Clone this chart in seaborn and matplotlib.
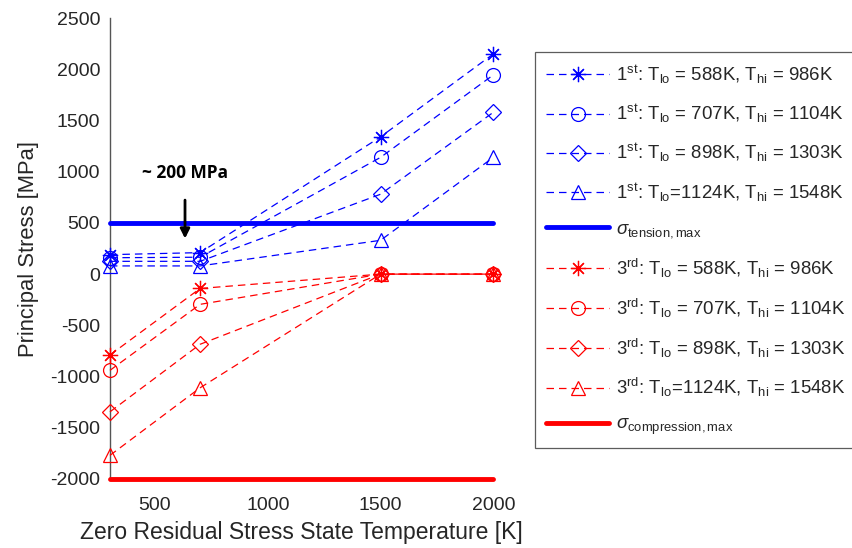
import matplotlib
matplotlib.use("Agg")
import matplotlib.pyplot as plt
import numpy as np
import pandas as pd
import seaborn as sns

# ---- data ----
temps = [300, 700, 1500, 2000]
first_588 = [190, 210, 1340, 2150]
first_707 = [160, 165, 1140, 1945]
first_898 = [125, 125, 780, 1580]
first_1124 = [80, 80, 330, 1140]
third_588 = [-790, -140, 0, 0]
third_707 = [-940, -295, 0, 0]
third_898 = [-1345, -685, 0, 0]
third_1124 = [-1770, -1110, 0, 0]
tension_max = 500
compression_max = -2000
limit_x = [300, 2000]

first_labels = [
    r"$1^{\mathrm{st}}$: T$_{\mathrm{lo}}$ = 588K, T$_{\mathrm{hi}}$ = 986K",
    r"$1^{\mathrm{st}}$: T$_{\mathrm{lo}}$ = 707K, T$_{\mathrm{hi}}$ = 1104K",
    r"$1^{\mathrm{st}}$: T$_{\mathrm{lo}}$ = 898K, T$_{\mathrm{hi}}$ = 1303K",
    r"$1^{\mathrm{st}}$: T$_{\mathrm{lo}}$=1124K, T$_{\mathrm{hi}}$ = 1548K",
]
third_labels = [
    r"$3^{\mathrm{rd}}$: T$_{\mathrm{lo}}$ = 588K, T$_{\mathrm{hi}}$ = 986K",
    r"$3^{\mathrm{rd}}$: T$_{\mathrm{lo}}$ = 707K, T$_{\mathrm{hi}}$ = 1104K",
    r"$3^{\mathrm{rd}}$: T$_{\mathrm{lo}}$ = 898K, T$_{\mathrm{hi}}$ = 1303K",
    r"$3^{\mathrm{rd}}$: T$_{\mathrm{lo}}$=1124K, T$_{\mathrm{hi}}$ = 1548K",
]
tension_label = r"$\sigma_{\mathrm{tension,max}}$"
compression_label = r"$\sigma_{\mathrm{compression,max}}$"
x_ticks = [500, 1000, 1500, 2000]
y_ticks = list(range(-2000, 2501, 500))

sns.set_style("white")
plt.rcParams["font.family"] = ["Liberation Sans", "DejaVu Sans"]
plt.rcParams["mathtext.fontset"] = "custom"
plt.rcParams["mathtext.rm"] = "Liberation Sans"
plt.rcParams["mathtext.it"] = "Liberation Sans:italic"
plt.rcParams["mathtext.bf"] = "Liberation Sans:bold"
plt.rcParams["axes.unicode_minus"] = False

fig = plt.figure(figsize=(8.52, 5.48), dpi=100)
ax = fig.add_axes([0.129, 0.126, 0.45, 0.841])

asterisk = (8, 2, 0)
markers = [asterisk, "o", "D", "^"]
msizes = [11, 10, 8, 10]
BLUE = "#0000ff"
RED = "#ff0000"

first_series = [first_588, first_707, first_898, first_1124]
third_series = [third_588, third_707, third_898, third_1124]

for vals, lab, m, ms in zip(first_series, first_labels, markers, msizes):
    sns.lineplot(x=temps, y=vals, ax=ax, color=BLUE, linestyle=(0, (6, 4)), lw=0.9,
                 marker=m, markersize=ms, markerfacecolor="none",
                 markeredgecolor=BLUE, markeredgewidth=0.9, label=lab, sort=False)
sns.lineplot(x=limit_x, y=[tension_max, tension_max], ax=ax, color=BLUE, lw=3.5,
             label=tension_label, sort=False)
for vals, lab, m, ms in zip(third_series, third_labels, markers, msizes):
    sns.lineplot(x=temps, y=vals, ax=ax, color=RED, linestyle=(0, (6, 4)), lw=0.9,
                 marker=m, markersize=ms, markerfacecolor="none",
                 markeredgecolor=RED, markeredgewidth=0.9, label=lab, sort=False)
sns.lineplot(x=limit_x, y=[compression_max, compression_max], ax=ax, color=RED, lw=3.5,
             label=compression_label, sort=False)

ax.set_xlim(300, 2000)
ax.set_ylim(-2000, 2500)
ax.set_xticks(x_ticks)
ax.set_yticks(y_ticks)
for s in ["top", "right"]:
    ax.spines[s].set_visible(False)
for s in ["left", "bottom"]:
    ax.spines[s].set_color("#555555")
    ax.spines[s].set_linewidth(1.0)
    ax.spines[s].set_zorder(1)
ax.tick_params(direction="in", length=5, width=0.9, colors="#555555",
               labelcolor="#262626", labelsize=14)
ax.tick_params(axis="x", pad=13)
ax.tick_params(axis="y", pad=7)
ax.set_xlabel("Zero Residual Stress State Temperature [K]", fontsize=16.5, color="#262626", labelpad=5)
ax.set_ylabel("Principal Stress [MPa]", fontsize=15.8, color="#262626", labelpad=8)
for ln in ax.lines:
    ln.set_clip_on(False)
    ln.set_zorder(3)

ax.annotate("", xy=(633, 320), xytext=(633, 750),
            arrowprops=dict(arrowstyle="-|>", color="black", lw=2, mutation_scale=14))
ax.text(633, 985, "~ 200 MPa", ha="center", va="center", fontsize=12.5,
        fontweight="bold", family=["Open Sans", "DejaVu Sans"], color="black")

leg = ax.legend(loc="upper left", bbox_to_anchor=(535 / 852, 1 - 52 / 548),
                bbox_transform=fig.transFigure, borderaxespad=0, frameon=True,
                fontsize=13.4, handlelength=3.4, handletextpad=0.35, labelspacing=0.9,
                borderpad=0.6, fancybox=False)
leg.get_frame().set_edgecolor("#333333")
leg.get_frame().set_linewidth(0.9)

fig.savefig("out.png", dpi=100)
